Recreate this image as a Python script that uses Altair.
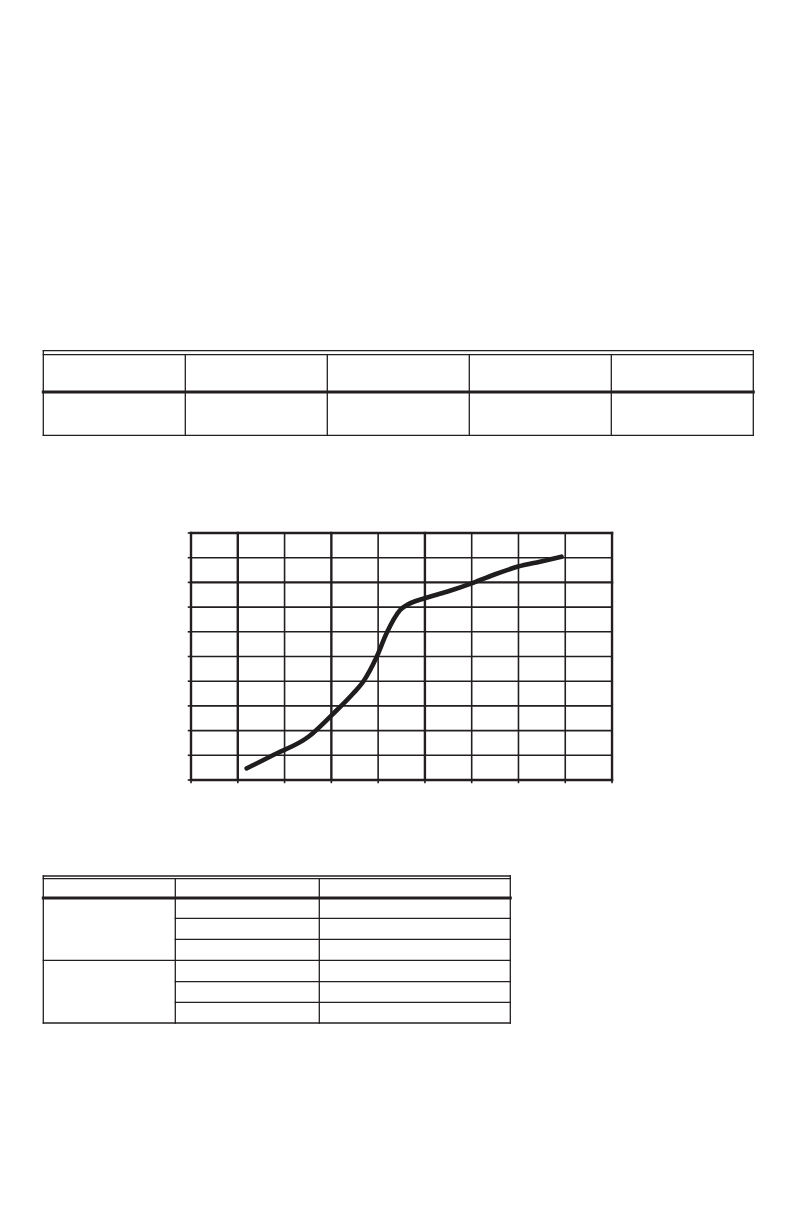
import altair as alt
import pandas as pd

INK = "#231f20"
THIN = 1.3
THICK = 2.4

# ---------------- Table 1: five equal columns, a header row and one body row
t1_col_edges = [0, 1, 2, 3, 4, 5]
t1_row_edges = [0, 4, 41.3, 84.6]          # top rule, inner top rule, header bottom, bottom
t1_header_bottom = 41.3

# ---------------- Chart grid (9 x 10 cells) and curve
grid_x = [0, 10, 20, 30, 40, 50, 60, 70, 80, 90]
grid_y = [0, 10, 20, 30, 40, 50, 60, 70, 80, 90, 100]
thick_x = [0, 10, 30, 50, 90]
thick_y = [0, 80, 100]
curve_x = [11.9, 17.6, 25.1, 30.1, 34.7, 36.8, 39.7, 41.8, 44.7, 46.8,
           50.0, 54.7, 60.0, 64.6, 69.9, 74.6, 79.2]
curve_y = [4.7, 10.1, 17.5, 26.3, 35.1, 39.8, 49.9, 59.4, 68.8, 71.5,
           73.6, 76.2, 79.6, 83.0, 86.4, 88.4, 90.4]

# ---------------- Table 2: three columns, header + 6 rows, first column merged in 2 groups
t2_col_edges = [0, 132, 276, 467]
t2_row_edges = [0, 2.7, 22, 42.3, 63.3, 84.3, 105.7, 126.3, 147]
t2_header_bottom = 22
t2_group_edges = [84.3, 147]


def rule_layer(rows, xs, ys, width, cap="square"):
    df = pd.DataFrame(rows, columns=["x", "x2", "y", "y2"])
    return alt.Chart(df).mark_rule(color=INK, strokeWidth=width, strokeCap=cap).encode(
        x=alt.X("x:Q", scale=xs, axis=None),
        x2="x2:Q",
        y=alt.Y("y:Q", scale=ys, axis=None),
        y2="y2:Q",
    )


W = 776

# ---- Panel A (table 1)
xsA = alt.Scale(domain=[-0.2486, 5.2162], nice=False, zero=False)
ysA = alt.Scale(domain=[-342.7, 119.3], nice=False, zero=False, reverse=True)
top, inner, bottom = t1_row_edges[0], t1_row_edges[1], t1_row_edges[-1]
left, right = t1_col_edges[0], t1_col_edges[-1]
a_thin = [[left, right, y, y] for y in t1_row_edges if y != t1_header_bottom]
a_thin += [[left, left, top, bottom], [right, right, top, bottom]]
a_thin += [[c, c, inner, bottom] for c in t1_col_edges[1:-1]]
a_thick = [[left, right, t1_header_bottom, t1_header_bottom]]
panelA = alt.layer(
    rule_layer(a_thin, xsA, ysA, THIN),
    rule_layer(a_thick, xsA, ysA, 3.0),
).properties(width=W, height=462)

# ---- Panel B (chart)
xsB = alt.Scale(domain=[-39.12, 126.76], nice=False, zero=False)
ysB = alt.Scale(domain=[-16.19, 125.5], nice=False, zero=False)
gx0, gx1 = grid_x[0], grid_x[-1]
gy0, gy1 = grid_y[0], grid_y[-1]
b_thin = [[x, x, gy0, gy1] for x in grid_x if x not in thick_x]
b_thin += [[gx0, gx1, y, y] for y in grid_y if y not in thick_y]
b_thin += [[gx0 - 0.7, gx0, y, y] for y in grid_y]      # small left ticks
b_thin += [[x, x, gy0 - 1.3, gy0] for x in grid_x]      # small bottom ticks
b_thick = [[x, x, gy0, gy1] for x in thick_x]
b_thick += [[gx0, gx1, y, y] for y in thick_y]
curve = pd.DataFrame({"x": curve_x, "y": curve_y})
line = alt.Chart(curve).mark_line(
    color="#1f1d1e", strokeWidth=4.6, strokeCap="round", strokeJoin="round",
    interpolate="monotone",
).encode(
    x=alt.X("x:Q", scale=xsB, axis=None),
    y=alt.Y("y:Q", scale=ysB, axis=None),
)
panelB = alt.layer(
    rule_layer(b_thin, xsB, ysB, 1.6, cap="butt"),
    rule_layer(b_thick, xsB, ysB, THICK),
    line,
).properties(width=W, height=350)

# ---- Panel C (table 2)
xsC = alt.Scale(domain=[-35.3, 740.7], nice=False, zero=False)
ysC = alt.Scale(domain=[-56, 340], nice=False, zero=False, reverse=True)
top2, inner2, bottom2 = t2_row_edges[0], t2_row_edges[1], t2_row_edges[-1]
l2, c1, r2 = t2_col_edges[0], t2_col_edges[1], t2_col_edges[-1]
c_thin = []
for y in t2_row_edges:
    if y == t2_header_bottom:
        continue
    if y <= inner2 or y in t2_group_edges:
        c_thin.append([l2, r2, y, y])
    else:
        c_thin.append([c1, r2, y, y])
c_thin += [[l2, l2, top2, bottom2], [r2, r2, top2, bottom2]]
c_thin += [[c, c, inner2, bottom2] for c in t2_col_edges[1:-1]]
c_thick = [[l2, r2, t2_header_bottom, t2_header_bottom]]
panelC = alt.layer(
    rule_layer(c_thin, xsC, ysC, THIN),
    rule_layer(c_thick, xsC, ysC, 3.0),
).properties(width=W, height=396)

chart = alt.vconcat(panelA, panelB, panelC, spacing=0).properties(
    padding=0, background="white"
).configure_view(strokeWidth=0)

chart.save("out.html", embed_options={"renderer": "svg", "actions": False})
